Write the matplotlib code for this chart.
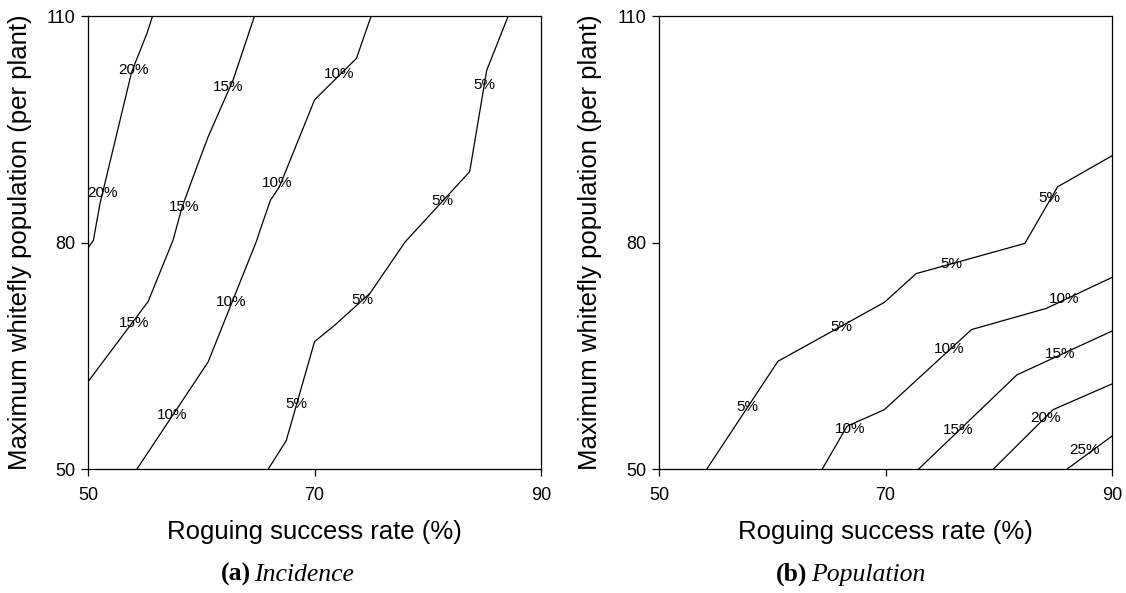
import matplotlib.pyplot as plt

plt.rcParams['font.family'] = ['Liberation Sans', 'DejaVu Sans']

# Contour lines: (level, x values, y values)
# (a) Incidence
inc_20_x = [55.7, 55.2, 53.85, 51.06, 50.47, 50.0]
inc_20_y = [110, 107.7, 102.6, 85.2, 80.3, 79.3]
inc_15_x = [64.7, 62.8, 60.6, 59.6, 58.3, 57.5, 55.3, 50.0]
inc_15_y = [110, 101.5, 94.0, 90.0, 84.7, 80.3, 72.2, 61.6]
inc_10_x = [75.0, 73.7, 70.0, 66.9, 66.1, 65.2, 64.9, 60.6, 54.3]
inc_10_y = [110, 104.4, 98.9, 87.4, 85.6, 81.7, 80.3, 64.2, 50.0]
inc_5_x = [87.1, 85.2, 83.7, 78.0, 74.9, 71.8, 70.0, 67.5, 65.9]
inc_5_y = [110, 102.8, 89.4, 80.1, 73.3, 69.1, 66.9, 53.8, 50.0]

inc_lab_x = [54.0, 51.3, 62.4, 58.5, 54.1, 66.7, 62.6, 57.4, 72.2, 85.0, 81.3, 74.2, 68.4]
inc_lab_y = [102.8, 86.6, 100.6, 84.7, 69.3, 87.9, 72.1, 57.2, 102.3, 100.9, 85.5, 72.4, 58.6]
inc_lab_t = ['20%', '20%', '15%', '15%', '15%', '10%', '10%', '10%', '10%', '5%', '5%', '5%', '5%']

# (b) Population
pop_5_x = [54.2, 60.5, 69.9, 72.7, 82.3, 85.2, 90.0]
pop_5_y = [50, 64.3, 72.1, 75.9, 79.9, 87.4, 91.5]
pop_10_x = [64.4, 66.6, 69.9, 77.6, 84.2, 90.0]
pop_10_y = [50, 55.7, 57.9, 68.5, 71.3, 75.4]
pop_15_x = [72.9, 81.6, 90.0]
pop_15_y = [50, 62.5, 68.3]
pop_20_x = [79.5, 84.8, 90.0]
pop_20_y = [50, 57.9, 61.3]
pop_25_x = [86.0, 90.0]
pop_25_y = [50, 54.4]

pop_lab_x = [57.8, 66.1, 75.8, 84.5, 66.9, 75.6, 85.8, 76.4, 85.4, 84.1, 87.6]
pop_lab_y = [58.3, 68.9, 77.2, 85.9, 55.4, 65.9, 72.5, 55.2, 65.2, 56.8, 52.5]
pop_lab_t = ['5%', '5%', '5%', '5%', '10%', '10%', '10%', '15%', '15%', '20%', '25%']

x_ticks = [50, 70, 90]
y_ticks = [50, 80, 110]

fig = plt.figure(figsize=(11.26, 5.93), dpi=100)
ax1 = fig.add_axes([0.0782, 0.2086, 0.4023, 0.7644])
ax2 = fig.add_axes([0.5853, 0.2086, 0.4023, 0.7644])

panels = [
    (ax1, [(inc_20_x, inc_20_y), (inc_15_x, inc_15_y), (inc_10_x, inc_10_y), (inc_5_x, inc_5_y)],
     inc_lab_x, inc_lab_y, inc_lab_t),
    (ax2, [(pop_5_x, pop_5_y), (pop_10_x, pop_10_y), (pop_15_x, pop_15_y),
           (pop_20_x, pop_20_y), (pop_25_x, pop_25_y)],
     pop_lab_x, pop_lab_y, pop_lab_t),
]

for ax, lines, lx, ly, lt in panels:
    for xs, ys in lines:
        ax.plot(xs, ys, color='black', lw=0.9, solid_joinstyle='miter')
    for x, y, t in zip(lx, ly, lt):
        ax.text(x, y, t, fontsize=11, ha='center', va='center')
    ax.set_xlim(50, 90)
    ax.set_ylim(50, 110)
    ax.set_xticks(x_ticks)
    ax.set_yticks(y_ticks)
    ax.tick_params(axis='both', direction='out', length=5, width=0.9, labelsize=13)
    ax.tick_params(axis='x', pad=8)
    ax.tick_params(axis='y', pad=4)
    for s in ax.spines.values():
        s.set_linewidth(0.9)
    ax.set_xlabel('Roguing success rate (%)', fontsize=18.5, labelpad=11)

fig.text(0.018, 0.591, 'Maximum whitefly population (per plant)', fontsize=18.5,
         rotation=90, ha='center', va='center')
fig.text(0.524, 0.591, 'Maximum whitefly population (per plant)', fontsize=18.5,
         rotation=90, ha='center', va='center')

# subfigure captions
cap_y = 0.021
fig.text(0.2225, cap_y, '(a)', fontsize=18.5, family='Liberation Serif', weight='bold',
         ha='right', va='baseline')
fig.text(0.2258, cap_y, 'Incidence', fontsize=18.5, family='Liberation Serif', style='italic',
         ha='left', va='baseline')
fig.text(0.7170, cap_y, '(b)', fontsize=18.5, family='Liberation Serif', weight='bold',
         ha='right', va='baseline')
fig.text(0.7203, cap_y, 'Population', fontsize=18.5, family='Liberation Serif', style='italic',
         ha='left', va='baseline')

fig.savefig('out.png', dpi=100)
